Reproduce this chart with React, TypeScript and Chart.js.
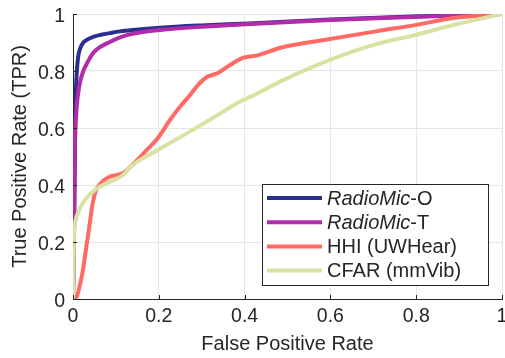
import React, { useEffect, useRef } from "react";
import { Chart, registerables } from "chart.js";

Chart.register(...registerables);

const seriesLabels = ["RadioMic-O", "RadioMic-T", "HHI (UWHear)", "CFAR (mmVib)"];
const italicPrefix = ["RadioMic", "RadioMic", "", ""];
const seriesColors = ["#2B2F8E", "#B22BA8", "#FF6B64", "#D9E2A2"];

const tickValues = [0, 0.2, 0.4, 0.6, 0.8, 1];
const tickLabels = ["0", "0.2", "0.4", "0.6", "0.8", "1"];

const fprO = [0, 0.003, 0.005, 0.007, 0.009, 0.012, 0.017, 0.023, 0.033, 0.047, 0.065, 0.086, 0.11, 0.14, 0.203, 0.3, 0.41, 0.6, 0.81, 1];
const tprO = [0, 0.3, 0.6, 0.74, 0.8, 0.85, 0.88, 0.898, 0.91, 0.92, 0.927, 0.933, 0.939, 0.944, 0.952, 0.96, 0.967, 0.981, 0.992, 1];

const fprT = [0, 0.002, 0.004, 0.008, 0.012, 0.016, 0.024, 0.033, 0.047, 0.065, 0.086, 0.105, 0.126, 0.163, 0.203, 0.3, 0.413, 0.6, 0.81, 1];
const tprT = [0, 0.2, 0.5, 0.66, 0.72, 0.758, 0.8, 0.828, 0.863, 0.886, 0.902, 0.915, 0.926, 0.937, 0.944, 0.955, 0.965, 0.979, 0.99, 1];

const fprH = [0, 0.007, 0.015, 0.023, 0.03, 0.038, 0.046, 0.054, 0.065, 0.084, 0.117, 0.133, 0.172, 0.198, 0.226, 0.249, 0.273, 0.296, 0.312, 0.338, 0.366, 0.396, 0.43, 0.49, 0.599, 0.709, 0.797, 0.886, 1];
const tprH = [0, 0.004, 0.042, 0.1, 0.172, 0.253, 0.337, 0.382, 0.407, 0.428, 0.442, 0.463, 0.523, 0.565, 0.628, 0.674, 0.716, 0.758, 0.779, 0.793, 0.821, 0.846, 0.855, 0.884, 0.912, 0.94, 0.961, 0.986, 1];

const fprC = [0, 0.002, 0.003, 0.006, 0.011, 0.023, 0.038, 0.061, 0.084, 0.117, 0.133, 0.198, 0.266, 0.326, 0.396, 0.413, 0.49, 0.599, 0.709, 0.797, 0.886, 1];
const tprC = [0, 0.2, 0.24, 0.275, 0.3, 0.337, 0.365, 0.393, 0.41, 0.435, 0.462, 0.523, 0.582, 0.635, 0.698, 0.709, 0.768, 0.839, 0.895, 0.926, 0.961, 1];

const allFpr = [fprO, fprT, fprH, fprC];
const allTpr = [tprO, tprT, tprH, tprC];

const FONT = "'Liberation Sans', Arial, sans-serif";
const TEXT = "#262626";

const insetLegend = {
  id: "insetLegend",
  afterDraw(chart: any) {
    const { ctx, chartArea } = chart;
    const w = 226;
    const h = 101;
    const x0 = Math.round(chartArea.right - 14 - w);
    const y0 = Math.round(chartArea.bottom - 14 - h);
    ctx.save();
    ctx.fillStyle = "#ffffff";
    ctx.fillRect(x0, y0, w, h);
    ctx.strokeStyle = TEXT;
    ctx.lineWidth = 1;
    ctx.strokeRect(x0 + 0.5, y0 + 0.5, w, h);
    chart.data.datasets.forEach((ds: any, i: number) => {
      const cy = y0 + 14 + i * 24.2;
      ctx.strokeStyle = ds.borderColor;
      ctx.lineWidth = 4;
      ctx.lineCap = "butt";
      ctx.beginPath();
      ctx.moveTo(x0 + 5, cy);
      ctx.lineTo(x0 + 60, cy);
      ctx.stroke();
      ctx.fillStyle = TEXT;
      ctx.textBaseline = "middle";
      ctx.textAlign = "left";
      let tx = x0 + 65;
      const pre = italicPrefix[i];
      const label = ds.label as string;
      if (pre) {
        ctx.font = `italic 20px ${FONT}`;
        ctx.fillText(pre, tx, cy + 1);
        tx += ctx.measureText(pre).width;
      }
      ctx.font = `20px ${FONT}`;
      ctx.fillText(label.slice(pre.length), tx, cy + 1);
    });
    ctx.restore();
  },
};

const inwardTicks = {
  id: "inwardTicks",
  afterDraw(chart: any) {
    const { ctx, chartArea, scales } = chart;
    ctx.save();
    ctx.strokeStyle = TEXT;
    ctx.lineWidth = 1;
    ctx.beginPath();
    tickValues.forEach((v) => {
      const y = Math.round(scales.y.getPixelForValue(v)) + 0.5;
      ctx.moveTo(chartArea.left, y);
      ctx.lineTo(chartArea.left + 4, y);
      const x = Math.round(scales.x.getPixelForValue(v)) + 0.5;
      ctx.moveTo(x, chartArea.bottom);
      ctx.lineTo(x, chartArea.bottom - 4);
    });
    ctx.stroke();
    ctx.restore();
  },
};

export default function App() {
  const ref = useRef<HTMLCanvasElement | null>(null);
  useEffect(() => {
    if (!ref.current) return;
    const datasets = seriesLabels.map((label, i) => ({
      label,
      data: allFpr[i].map((x, j) => ({ x, y: allTpr[i][j] })),
      borderColor: seriesColors[i],
      backgroundColor: seriesColors[i],
      borderWidth: 4,
      pointRadius: 0,
      tension: 0.2,
      cubicInterpolationMode: "monotone" as const,
      fill: false,
      borderJoinStyle: "round" as const,
      order: 4 - i,
    }));
    const chart = new Chart(ref.current, {
      type: "line",
      data: { datasets },
      options: {
        animation: false,
        responsive: false,
        maintainAspectRatio: false,
        layout: { padding: { top: 14, right: 3, left: 0, bottom: 0 } },
        plugins: { legend: { display: false }, tooltip: { enabled: false } },
        scales: {
          x: {
            type: "linear",
            min: 0,
            max: 1,
            afterBuildTicks: (s: any) => {
              s.ticks = tickValues.map((v) => ({ value: v }));
            },
            afterFit: (s: any) => {
              s.height = 59;
              s.paddingLeft = 0;
              s.paddingRight = 0;
            },
            ticks: {
              callback: (v: any) => tickLabels[tickValues.indexOf(Number(v))] ?? "",
              font: { family: FONT, size: 19.5 },
              color: TEXT,
              padding: 6,
              maxRotation: 0,
            },
            grid: { color: "#E6E6E6", lineWidth: 1, drawTicks: false },
            border: { color: TEXT, width: 1 },
            title: {
              display: true,
              text: "False Positive Rate",
              font: { family: FONT, size: 20 },
              color: TEXT,
              padding: { top: 0, bottom: 2 },
            },
          },
          y: {
            type: "linear",
            min: 0,
            max: 1,
            afterBuildTicks: (s: any) => {
              s.ticks = tickValues.map((v) => ({ value: v }));
            },
            afterFit: (s: any) => {
              s.width = 73;
              s.paddingTop = 0;
              s.paddingBottom = 0;
            },
            ticks: {
              callback: (v: any) => tickLabels[tickValues.indexOf(Number(v))] ?? "",
              font: { family: FONT, size: 19.5 },
              color: TEXT,
              padding: 8,
              labelOffset: 3,
            },
            grid: { color: "#E6E6E6", lineWidth: 1, drawTicks: false },
            border: { color: TEXT, width: 1 },
            title: {
              display: true,
              text: "True Positive Rate (TPR)",
              font: { family: FONT, size: 20 },
              color: TEXT,
              padding: { top: 8, bottom: 0 },
            },
          },
        },
      },
      plugins: [inwardTicks, insetLegend],
    });
    return () => chart.destroy();
  }, []);
  return (
    <div style={{ position: "absolute", left: 0, top: 0, width: 505, height: 358, background: "#fff" }}>
      <canvas ref={ref} width={505} height={358} />
    </div>
  );
}
